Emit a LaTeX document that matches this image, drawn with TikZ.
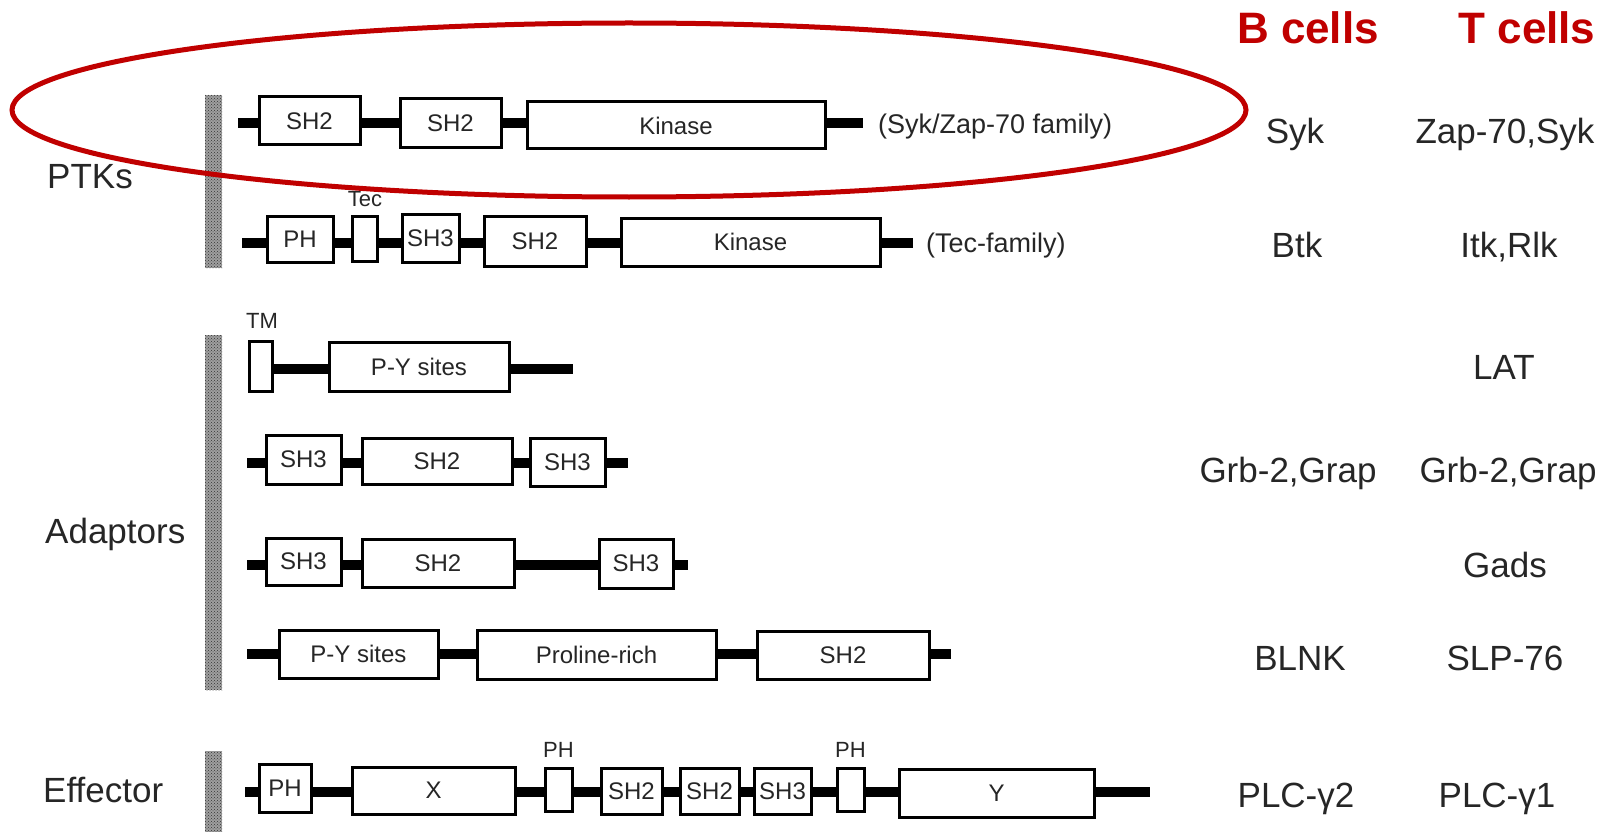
\documentclass[tikz,border=0pt]{standalone}
\usepackage{fontspec}
\setmainfont{Liberation Sans}
\usetikzlibrary{patterns}
\definecolor{hired}{RGB}{192,0,0}
\newcommand{\setfs}[1]{\fontsize{#1}{#1}\selectfont}
\begin{document}
\begin{tikzpicture}[x=1pt,y=-1pt,
  dom/.style={draw=black, line width=3pt, fill=white, inner sep=0pt, font=\setfs{24}, text=black!85},
  backbone/.style={line width=10pt, black},
  lab/.style={font=\setfs{35}, anchor=base, text=black!85, inner sep=0pt},
  grp/.style={font=\setfs{35}, anchor=base west, text=black!85, inner sep=0pt},
  hdr/.style={font=\bfseries\setfs{44}, text=hired, anchor=base, inner sep=0pt},
  tiny/.style={font=\setfs{22}, anchor=base, inner sep=0pt, text=black!85},
  fam/.style={font=\setfs{27}, anchor=base west, inner sep=0pt, text=black!85},
  barfill/.style={fill=gray!75},
  barpat/.style={pattern=crosshatch dots, pattern color=black!80},
]
\useasboundingbox (0,0) rectangle (1612,832);

% gray bars
\foreach \ya/\yb in {95/268, 335/690, 751/832}{
  \fill[barfill] (205,\ya) rectangle (222,\yb);
  \fill[barpat] (205,\ya) rectangle (222,\yb);
}

% group labels
\node[grp] (gptk) at (47,188) {PTKs};
\node[grp] (gada) at (45,543) {Adaptors};
\node[grp] (geff) at (43,802) {Effector};

% headers
\node[hdr] (hb) at (1308,44) {B cells};
\node[hdr] (ht) at (1527,44) {T cells};

% ---------- Row 1: Syk/Zap-70 ----------
\coordinate (r1s) at (238,123);
\coordinate (r1e) at (863,123);
\draw[backbone] (r1s) -- (r1e);
\node[dom, minimum width=101, minimum height=48] (r1a) at (309.5,121) {SH2};
\node[dom, minimum width=101, minimum height=49] (r1b) at (450.5,123.5) {SH2};
\node[dom, minimum width=298, minimum height=47] (r1c) at (676,125.5) {Kinase};
\node[fam] (r1f) at (878,134) {(Syk/Zap-70 family)};
\node[lab] (r1B) at (1295,143) {Syk};
\node[lab] (r1T) at (1505,143) {Zap-70,Syk};

% ---------- Row 2: Tec ----------
\coordinate (r2s) at (242,243);
\coordinate (r2e) at (913,243);
\draw[backbone] (r2s) -- (r2e);
\node[dom, minimum width=66, minimum height=46] (r2a) at (300,239) {PH};
\node[dom, minimum width=25, minimum height=45] (r2b) at (365,238.5) {};
\node[dom, minimum width=57, minimum height=48] (r2c) at (430.5,238) {SH3};
\node[dom, minimum width=102, minimum height=50] (r2d) at (535,241) {SH2};
\node[dom, minimum width=259, minimum height=48] (r2e2) at (750.5,242) {Kinase};
\node[tiny] (r2t) at (365,206) {Tec};
\node[fam] (r2f) at (926,252) {(Tec-family)};
\node[lab] (r2B) at (1297,257) {Btk};
\node[lab] (r2T) at (1509,257) {Itk,Rlk};

% ---------- Row 3: LAT ----------
\coordinate (r3s) at (262,369);
\coordinate (r3e) at (573,369);
\draw[backbone] (r3s) -- (r3e);
\node[dom, minimum width=23, minimum height=50] (r3a) at (260.5,366) {};
\node[dom, minimum width=180, minimum height=49] (r3b) at (419,366.5) {P-Y sites};
\node[tiny] (r3t) at (262,328) {TM};
\node[lab] (r3T) at (1504,379) {LAT};

% ---------- Row 4: Grb-2 ----------
\coordinate (r4s) at (247,463);
\coordinate (r4e) at (628,463);
\draw[backbone] (r4s) -- (r4e);
\node[dom, minimum width=75, minimum height=49] (r4a) at (303.5,459.5) {SH3};
\node[dom, minimum width=150, minimum height=46] (r4b) at (437,461) {SH2};
\node[dom, minimum width=75, minimum height=48] (r4c) at (567.5,462) {SH3};
\node[lab] (r4B) at (1288,482) {Grb-2,Grap};
\node[lab] (r4T) at (1508,482) {Grb-2,Grap};

% ---------- Row 5: Gads ----------
\coordinate (r5s) at (247,565);
\coordinate (r5e) at (688,565);
\draw[backbone] (r5s) -- (r5e);
\node[dom, minimum width=75, minimum height=47] (r5a) at (303.5,561.5) {SH3};
\node[dom, minimum width=152, minimum height=48] (r5b) at (438,563) {SH2};
\node[dom, minimum width=74, minimum height=49] (r5c) at (636,563.5) {SH3};
\node[lab] (r5T) at (1505,577) {Gads};

% ---------- Row 6: BLNK / SLP-76 ----------
\coordinate (r6s) at (247,654);
\coordinate (r6e) at (951,654);
\draw[backbone] (r6s) -- (r6e);
\node[dom, minimum width=159, minimum height=48] (r6a) at (358.5,654) {P-Y sites};
\node[dom, minimum width=239, minimum height=49] (r6b) at (596.5,654.5) {Proline-rich};
\node[dom, minimum width=172, minimum height=48] (r6c) at (843,655) {SH2};
\node[lab] (r6B) at (1300,670) {BLNK};
\node[lab] (r6T) at (1505,670) {SLP-76};

% ---------- Row 7: PLC-gamma ----------
\coordinate (r7s) at (245,792);
\coordinate (r7e) at (1150,792);
\draw[backbone] (r7s) -- (r7e);
\node[dom, minimum width=52, minimum height=48] (r7a) at (285,788) {PH};
\node[dom, minimum width=163, minimum height=47] (r7b) at (433.5,790.5) {X};
\node[dom, minimum width=27, minimum height=43] (r7c) at (558.5,789.5) {};
\node[dom, minimum width=61, minimum height=46] (r7d) at (631.5,791) {SH2};
\node[dom, minimum width=59, minimum height=46] (r7e2) at (709.5,791) {SH2};
\node[dom, minimum width=57, minimum height=46] (r7f) at (782.5,791) {SH3};
\node[dom, minimum width=27, minimum height=43] (r7g) at (850.5,789.5) {};
\node[dom, minimum width=195, minimum height=48] (r7h) at (996.5,793) {Y};
\node[tiny] (r7p1) at (558.5,757) {PH};
\node[tiny] (r7p2) at (850.5,757) {PH};
\node[lab] (r7B) at (1296,807) {PLC-γ2};
\node[lab] (r7T) at (1497,807) {PLC-γ1};

% red ellipse
\draw[hired, line width=5pt] (629,110) ellipse [x radius=617, y radius=87];
\end{tikzpicture}
\end{document}
